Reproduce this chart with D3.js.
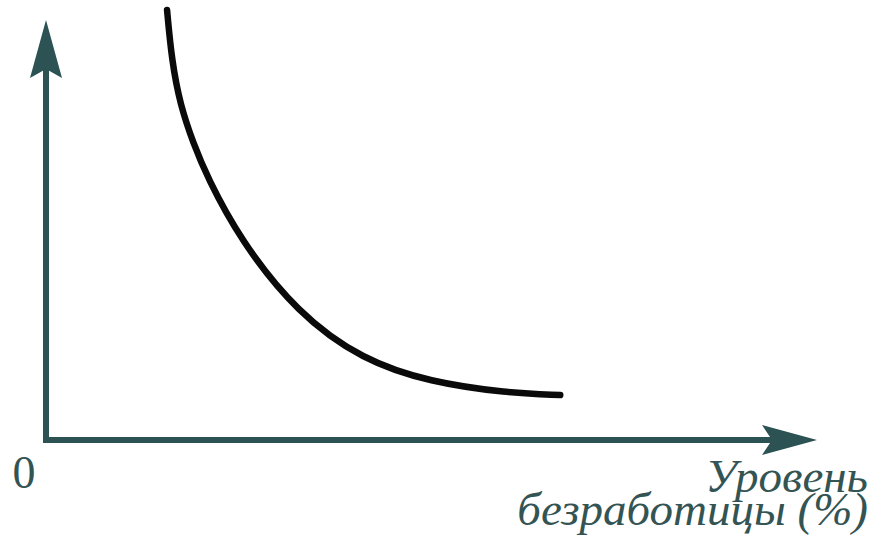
<!DOCTYPE html>
<html>
<head>
<meta charset="utf-8">
<script src="https://cdn.jsdelivr.net/npm/d3@7"></script>
<style>
  body { margin: 0; background: #fff; }
  svg { display: block; }
</style>
</head>
<body>
<script>
// unemployment (x) vs inflation (y)
const unemployment = [15.7, 16.3, 17.4, 19.1, 20.9, 25.2, 32.6, 41.1, 49.8, 59.8, 66.7];
const inflation    = [102.4, 90.5, 79.8, 70.7, 62.6, 47.6, 30.2, 19.0, 13.8, 11.2, 10.7];
const xLabel = ["Уровень", "безработицы (%)"];
const originLabel = "0";

const width = 883;
const height = 543;
const axisColor = "#2c5253";
const textColor = "#345454";

const svg = d3.select("body")
  .append("svg")
  .attr("width", width)
  .attr("height", height);

const xScale = d3.scaleLinear()
  .domain([0, 100])
  .range([46, 817]);

const yScale = d3.scaleLinear()
  .domain([0, 100])
  .range([440, 20]);

const x0 = xScale(0), y0 = yScale(0);
const xEnd = xScale(100), yEnd = yScale(100);

// y axis line + barbed arrow
svg.append("line")
  .attr("x1", x0).attr("y1", y0 + 3)
  .attr("x2", x0).attr("y2", yEnd + 45)
  .attr("stroke", axisColor)
  .attr("stroke-width", 6);

svg.append("path")
  .attr("d", `M${x0},${yEnd} L${x0 + 16},${yEnd + 58} L${x0},${yEnd + 49} L${x0 - 16},${yEnd + 58} Z`)
  .attr("fill", axisColor);

// x axis line + barbed arrow
svg.append("line")
  .attr("x1", x0 - 3).attr("y1", y0)
  .attr("x2", xEnd - 45).attr("y2", y0)
  .attr("stroke", axisColor)
  .attr("stroke-width", 6);

svg.append("path")
  .attr("d", `M${xEnd},${y0} L${xEnd - 55},${y0 - 15} L${xEnd - 45},${y0} L${xEnd - 55},${y0 + 15} Z`)
  .attr("fill", axisColor);

// Phillips curve
const points = unemployment.map((u, i) => [u, inflation[i]]);

const line = d3.line()
  .x(d => xScale(d[0]))
  .y(d => yScale(d[1]))
  .curve(d3.curveBasis);

svg.append("path")
  .datum(points)
  .attr("d", line)
  .attr("fill", "none")
  .attr("stroke", "#0a0a0a")
  .attr("stroke-width", 6.5)
  .attr("stroke-linecap", "round");

// labels
svg.append("text")
  .attr("x", 24)
  .attr("y", 488)
  .attr("text-anchor", "middle")
  .attr("font-family", "Liberation Serif, serif")
  .attr("font-size", 46)
  .attr("fill", textColor)
  .text(originLabel);

const label = svg.append("text")
  .attr("text-anchor", "end")
  .attr("font-family", "Liberation Serif, serif")
  .attr("font-style", "italic")
  .attr("font-size", 47)
  .attr("fill", textColor);

label.selectAll("tspan")
  .data(xLabel)
  .enter()
  .append("tspan")
  .attr("x", 868)
  .attr("y", (d, i) => 492 + i * 33)
  .text(d => d);
</script>
</body>
</html>
